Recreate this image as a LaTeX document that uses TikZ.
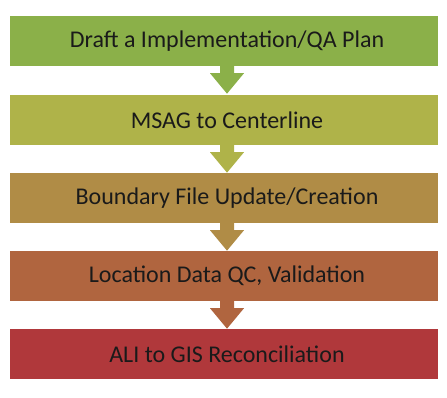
\documentclass[tikz,border=0pt]{standalone}
\usepackage{fontspec}
\setmainfont{Carlito}
\definecolor{cA}{HTML}{8BB049}
\definecolor{cB}{HTML}{AFB349}
\definecolor{cC}{HTML}{B08C46}
\definecolor{cD}{HTML}{B0653F}
\definecolor{cE}{HTML}{B0383B}
\definecolor{txt}{HTML}{1A1A1A}
\tikzset{
  stepbox/.style={minimum width=428pt, minimum height=50pt, inner sep=0pt, text=txt,
    font=\fontsize{24}{27}\selectfont, execute at begin node={\hspace*{6pt}}},
}
\begin{document}
\begin{tikzpicture}[x=1pt,y=-1pt]
\useasboundingbox (0,0) rectangle (447,397);
\node[stepbox, fill=cA] (s1) at (224,41) {Draft a Implementation/QA Plan};
\node[stepbox, fill=cB] (s2) at (224,120) {MSAG to Centerline};
\node[stepbox, fill=cC] (s3) at (224,198) {Boundary File Update/Creation};
\node[stepbox, fill=cD] (s4) at (224,276) {Location Data QC, Validation};
\node[stepbox, fill=cE] (s5) at (224,354) {ALI to GIS Reconciliation};
\foreach \a/\c in {s1/cA,s2/cB,s3/cC,s4/cD}{
  \fill[\c] ([xshift=-4pt]\a.south) -- ([xshift=-4pt,yshift=-7pt]\a.south)
    -- ([xshift=-14pt,yshift=-7pt]\a.south) -- ([xshift=3pt,yshift=-27.5pt]\a.south)
    -- ([xshift=20pt,yshift=-7pt]\a.south) -- ([xshift=10pt,yshift=-7pt]\a.south)
    -- ([xshift=10pt]\a.south) -- cycle;
}
\end{tikzpicture}
\end{document}
